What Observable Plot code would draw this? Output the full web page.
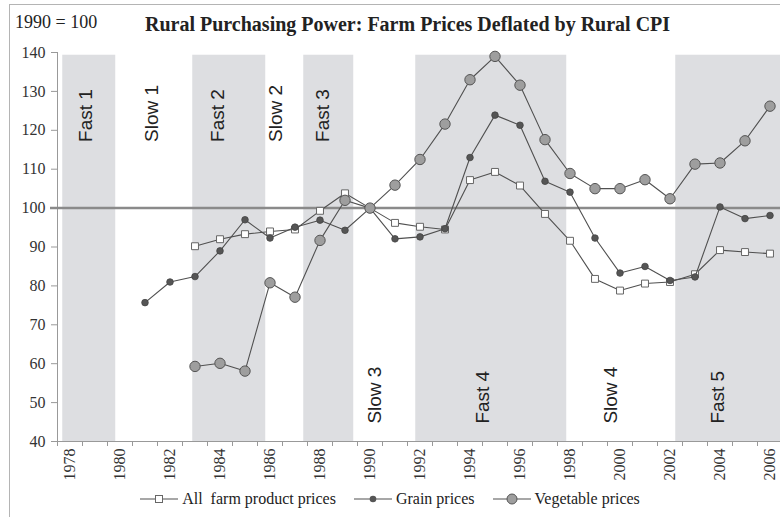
<!DOCTYPE html>
<html><head><meta charset="utf-8">
<script src="https://cdn.jsdelivr.net/npm/d3@7"></script>
<script src="https://cdn.jsdelivr.net/npm/@observablehq/plot@0.6"></script>
<style>
body{margin:0;background:#fff;}
#wrap{position:relative;width:780px;height:517px;overflow:hidden;background:#fff;font-family:"Liberation Serif","Times New Roman",serif;color:#222;}
#frame{position:absolute;left:9px;top:4px;width:800px;height:600px;border-left:1px solid #b4b4b4;border-top:1px solid #b4b4b4;}
#base{position:absolute;left:15px;top:12px;font-size:18px;line-height:20px;white-space:pre;}
#title{position:absolute;left:145px;top:14px;font-size:20px;font-weight:bold;line-height:20px;white-space:nowrap;}
#chart{position:absolute;left:0;top:38px;}
#legend{position:absolute;left:0;top:488px;width:780px;height:22px;display:flex;justify-content:center;align-items:center;font-size:16px;}
#legend .item{display:flex;align-items:center;margin:0 9px;white-space:pre;}
#legend svg{margin-right:4px;}
</style></head>
<body><div id="wrap"><div id="frame"></div><div id="base">1990 = 100</div><div id="title">Rural Purchasing Power: Farm Prices Deflated by Rural CPI</div><div id="chart"></div><div id="legend"></div></div>
<script>
// ---- data ----
const seriesNames = ["All  farm product prices", "Grain prices", "Vegetable prices"];
const allFarmYears = d3.range(1983, 2007);
const allFarm = [90.2, 92, 93.3, 94, 94.5, 99.3, 103.8, 100, 96.2, 95.2, 94.5, 107.2, 109.3, 105.8, 98.5, 91.6, 81.8, 78.8, 80.6, 81, 83, 89.2, 88.7, 88.3];
const grainYears = d3.range(1981, 2007);
const grain = [75.7, 81, 82.4, 89, 97, 92.3, 95.1, 96.9, 94.3, 100, 92.1, 92.6, 94.7, 113, 123.9, 121.3, 106.9, 104.1, 92.3, 83.3, 85, 81.4, 82.3, 100.3, 97.3, 98.1];
const vegYears = d3.range(1983, 2007);
const veg = [59.3, 60.1, 58.1, 80.8, 77.1, 91.7, 102, 100, 105.9, 112.5, 121.6, 133, 139, 131.6, 117.6, 108.9, 105, 105, 107.3, 102.4, 111.3, 111.6, 117.3, 126.2];
const yearLabels = d3.range(1978, 2007, 2);
const yTicks = d3.range(40, 141, 10);
const fastStart = [1977.71, 1982.91, 1987.35, 1991.83, 2002.23];
const fastEnd = [1979.83, 1985.83, 1989.35, 1997.87, 2006.6];
const periodNames = ["Fast 1", "Slow 1", "Fast 2", "Slow 2", "Fast 3", "Slow 3", "Fast 4", "Slow 4", "Fast 5"];
const periodYear = [1978.65, 1981.27, 1983.93, 1986.23, 1988.13, 1990.2, 1994.53, 1999.63, 2003.93];
const periodBase = [117, 117, 117, 117, 117, 44.6, 44.6, 44.6, 44.6];
const baseValue = 100;

// ---- tables ----
const toRows = (ys, vs) => ys.map((y, i) => ({year: y, v: vs[i]}));
const farmRows = toRows(allFarmYears, allFarm);
const grainRows = toRows(grainYears, grain);
const vegRows = toRows(vegYears, veg);
const bands = fastStart.map((s, i) => ({s, e: fastEnd[i]}));
const periods = periodNames.map((n, i) => ({name: n, year: periodYear[i], base: periodBase[i]}));
const firstYear = 1978, lastYear = 2006;
const halfTicks = d3.range(firstYear - 0.5, lastYear + 0.6, 1);

const lineC = "#505050";
const chart = Plot.plot({
  width: 780, height: 455,
  marginLeft: 57, marginRight: 0, marginTop: 14, marginBottom: 52,
  style: {fontFamily: "'Liberation Serif','Times New Roman',serif", fontSize: "16px", color: "#333", background: "transparent"},
  x: {type: "linear", domain: [firstYear - 0.5, firstYear - 0.5 + 723 / 25], label: null},
  y: {domain: [40, 140], label: null},
  marks: [
    Plot.rect(bands, {x1: "s", x2: "e", y1: 40, y2: 139.3, fill: "#dddee1"}),
    Plot.text(periods, {x: "year", y: "base", text: "name", rotate: -90, textAnchor: "start", lineAnchor: "middle", fontSize: 19, fontFamily: "'Liberation Sans',Arial,sans-serif", fill: "#222"}),
    Plot.ruleY([40], {stroke: "#999"}),
    Plot.ruleX([firstYear - 0.5], {y1: 40, y2: 140, stroke: "#999"}),
    Plot.axisY({ticks: yTicks, tickSize: 6, tickPadding: 6, stroke: "#999", fill: "#333", tickFormat: d => String(d)}),
    Plot.axisX({ticks: halfTicks, tickSize: 5, stroke: "#999", tickFormat: () => ""}),
    Plot.axisX({ticks: yearLabels, tickSize: 0, tickPadding: 7, tickRotate: -90, fill: "#333", tickFormat: d => String(d)}),
    Plot.ruleY([baseValue], {stroke: "#8a8a8a", strokeWidth: 2.5, insetLeft: -7}),
    Plot.line(farmRows, {x: "year", y: "v", stroke: lineC, strokeWidth: 1.1}),
    Plot.dot(farmRows, {x: "year", y: "v", symbol: "square", r: 3.9, fill: "#fff", stroke: "#666", strokeWidth: 1}),
    Plot.line(grainRows, {x: "year", y: "v", stroke: lineC, strokeWidth: 1.1}),
    Plot.dot(grainRows, {x: "year", y: "v", r: 3.3, fill: "#555", stroke: "#444", strokeWidth: 0.8}),
    Plot.line(vegRows, {x: "year", y: "v", stroke: lineC, strokeWidth: 1.1}),
    Plot.dot(vegRows, {x: "year", y: "v", r: 5.2, fill: "#9e9e9e", stroke: "#555", strokeWidth: 1})
  ]
});
document.getElementById("chart").appendChild(chart);

// ---- legend ----
const icons = [
  '<rect x="15.5" y="2.5" width="7" height="7" fill="#fff" stroke="#666"/>',
  '<circle cx="19" cy="6" r="3.3" fill="#555"/>',
  '<circle cx="19" cy="6" r="5" fill="#9e9e9e" stroke="#555"/>'
];
const leg = document.getElementById("legend");
seriesNames.forEach((n, i) => {
  const it = document.createElement("span");
  it.className = "item";
  it.innerHTML = '<svg width="38" height="12"><line x1="0" y1="6" x2="38" y2="6" stroke="#505050" stroke-width="1.2"/>' + icons[i] + '</svg>';
  const t = document.createElement("span");
  t.textContent = n;
  it.appendChild(t);
  leg.appendChild(it);
});
</script>
</body></html>
